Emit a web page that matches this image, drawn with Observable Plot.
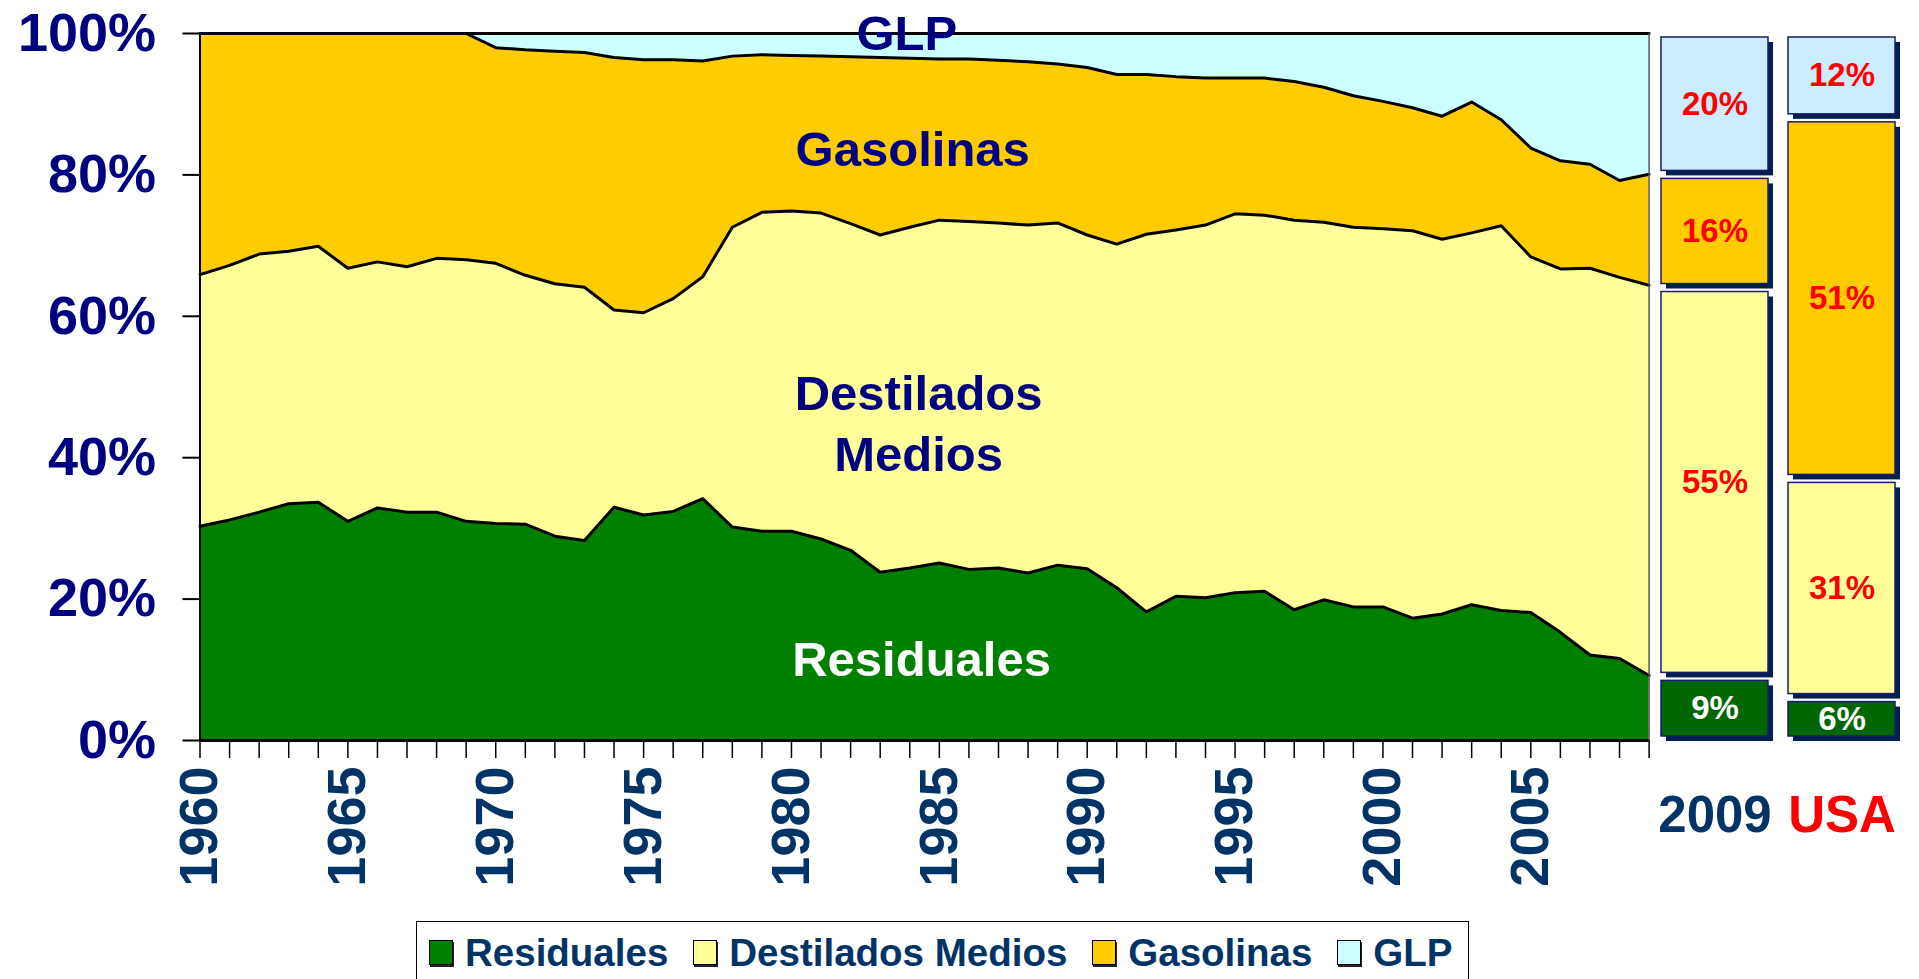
<!DOCTYPE html>
<html><head><meta charset="utf-8">
<script src="https://cdn.jsdelivr.net/npm/d3@7"></script>
<script src="https://cdn.jsdelivr.net/npm/@observablehq/plot@0.6"></script>
<style>
html,body{margin:0;padding:0;overflow:hidden;background:#fff;width:1919px;height:979px;}
#wrap{position:relative;width:1919px;height:979px;font-family:"Liberation Sans",Arial,sans-serif;}
#main{position:absolute;left:0;top:0;}
#side{position:absolute;left:1650px;top:0;}
#legend{position:absolute;left:416px;top:921px;width:1053px;height:80px;border:1.5px solid #000;box-sizing:border-box;
  display:flex;align-items:flex-start;padding:11px 0 0 12px;background:#fff;}
.sw{width:24px;height:25px;border:1.5px solid #000;box-sizing:border-box;margin-top:7px;margin-right:12px;box-shadow:1px 2px 0 #222;flex:none;}
.lt{font:bold 38.5px/40px "Liberation Sans",Arial,sans-serif;color:#003366;margin-right:25px;white-space:nowrap;}
</style>
</head><body>
<div id="wrap">
  <div id="main"></div>
  <div id="side"></div>
  <div id="legend"></div>
</div>
<script>
const cats = ["Residuales", "Destilados Medios", "Gasolinas", "GLP"];
const years = [1960,1961,1962,1963,1964,1965,1966,1967,1968,1969,
               1970,1971,1972,1973,1974,1975,1976,1977,1978,1979,
               1980,1981,1982,1983,1984,1985,1986,1987,1988,1989,
               1990,1991,1992,1993,1994,1995,1996,1997,1998,1999,
               2000,2001,2002,2003,2004,2005,2006,2007,2008,2009];
const residuales = [30.3,31.2,32.3,33.5,33.7,31.0,32.9,32.3,32.3,31.0,
                    30.7,30.6,28.9,28.3,33.0,31.9,32.4,34.2,30.2,29.6,
                    29.6,28.5,26.9,23.8,24.4,25.1,24.2,24.4,23.7,24.8,
                    24.3,21.6,18.2,20.4,20.2,20.9,21.1,18.5,19.9,18.9,
                    18.9,17.3,17.9,19.2,18.4,18.1,15.3,12.1,11.6,9.2];
const destilados = [35.6,36.0,36.5,35.7,36.2,35.8,34.8,34.7,35.9,37.0,
                    36.8,35.2,35.7,35.8,27.9,28.6,30.1,31.4,42.4,45.1,
                    45.3,46.1,46.2,47.7,48.2,48.5,49.2,48.8,49.2,48.4,
                    47.2,48.6,53.4,51.8,52.7,53.6,53.2,55.1,53.4,53.7,
                    53.5,54.8,53.0,52.6,54.4,50.3,51.4,54.7,53.9,55.2];
const gasolinas = [34.1,32.8,31.2,30.8,30.1,33.2,32.3,33.0,31.8,32.0,
                   30.5,31.9,32.9,33.2,35.7,35.8,33.8,30.5,24.2,22.3,
                   22.0,22.2,23.6,25.1,23.9,22.8,23.0,23.0,23.1,22.5,
                   23.7,24.0,22.6,21.7,20.8,19.2,19.4,19.6,19.1,18.6,
                   18.0,17.4,17.4,18.5,15.0,15.4,15.3,14.7,13.7,15.7];
const glp = [0,0,0,0,0,0,0,0,0,0,
             2.0,2.3,2.5,2.7,3.4,3.7,3.7,3.9,3.2,3.0,
             3.1,3.2,3.3,3.4,3.5,3.6,3.6,3.8,4.0,4.3,
             4.8,5.8,5.8,6.1,6.3,6.3,6.3,6.8,7.6,8.8,
             9.6,10.5,11.7,9.7,12.2,16.2,18.0,18.5,20.8,19.9];
const yTicks = [0, 20, 40, 60, 80, 100];
const yearLabels = [1960,1965,1970,1975,1980,1985,1990,1995,2000,2005];

const annotTexts = ["GLP", "Gasolinas", "Destilados", "Medios", "Residuales"];
const annotYears = [1983.9, 1984.1, 1984.3, 1984.3, 1984.4];
const annotValues = [99.9, 83.5, 48.9, 40.4, 11.3];

const boxCols = ["2009", "USA"];
const boxResiduales = [9, 6];
const boxDestilados = [55, 31];
const boxGasolinas = [16, 51];
const boxGLP = [20, 12];

const areaColors = ["#008000", "#FFFF99", "#FFCC00", "#CCFFFF"];
const boxColors = ["#006600", "#FFFF99", "#FFCC00", "#CCECFF"];
const font = '"Liberation Sans", Arial, sans-serif';

const series = [residuales, destilados, gasolinas, glp];
const data = years.flatMap((yr, i) => cats.map((c, k) => ({year: yr, cat: c, value: series[k][i]})));
const annots = annotTexts.map((t, i) => ({text: t, year: annotYears[i], value: annotValues[i]}));
const boxSeries = [boxResiduales, boxDestilados, boxGasolinas, boxGLP];
const boxData = boxCols.flatMap((col, i) => cats.map((c, k) => ({col, cat: c, value: boxSeries[k][i]})));

const main = Plot.plot({
  width: 1660, height: 900,
  marginLeft: 199.5, marginRight: 11.4, marginTop: 33, marginBottom: 160,
  style: {fontFamily: font, background: "transparent", overflow: "visible"},
  x: {domain: [1960, 2009]},
  y: {domain: [0, 100]},
  color: {domain: cats, range: areaColors},
  marks: [
    Plot.areaY(data, Plot.stackY({x: "year", y: "value", z: "cat", fill: "cat", order: cats})),
    Plot.lineY(data, Plot.stackY2({x: "year", y: "value", z: "cat", order: cats, stroke: "black", strokeWidth: 3})),
    Plot.ruleY([100], {stroke: "black", strokeWidth: 2.5}),
    Plot.ruleX([2009], {stroke: "#555", strokeWidth: 1.5}),
    Plot.ruleX([1960], {stroke: "black", strokeWidth: 2}),
    Plot.axisY({ticks: yTicks, tickFormat: d => d + "%", tickSize: 17, tickPadding: 27,
      fontSize: 54, fontWeight: "bold", fill: "#000080", stroke: "black", strokeWidth: 2, label: null}),
    Plot.axisX({ticks: years, tickSize: 18, tickFormat: () => "", stroke: "black", strokeWidth: 1.5, label: null}),
    Plot.axisX({ticks: yearLabels, tickSize: 0, tickPadding: 26, tickRotate: -90, tickFormat: d => String(d),
      fontSize: 54, fontWeight: "bold", fill: "#003366", label: null}),
    Plot.ruleY([0], {stroke: "black", strokeWidth: 3}),
    Plot.text(annots, {filter: d => d.text !== "Residuales", x: "year", y: "value", text: "text",
      fill: "#000080", fontSize: 49, fontWeight: "bold"}),
    Plot.text(annots, {filter: d => d.text === "Residuales", x: "year", y: "value", text: "text",
      fill: "white", fontSize: 49, fontWeight: "bold"})
  ]
});
document.getElementById("main").appendChild(main);

const stackOpts = {x: "col", y: "value", z: "cat", order: cats};
const side = Plot.plot({
  width: 269, height: 900,
  marginLeft: 10, marginRight: 23, marginTop: 33, marginBottom: 160,
  style: {fontFamily: font, background: "transparent", overflow: "visible"},
  x: {type: "band", domain: boxCols, paddingInner: 0.156, paddingOuter: 0, axis: null},
  y: {domain: [0, 100], axis: null},
  color: {domain: cats, range: boxColors},
  marks: [
    Plot.barY(boxData, Plot.stackY({...stackOpts, fill: "#00204F", dx: 5, dy: 5, insetTop: 4, insetBottom: 4})),
    Plot.barY(boxData, Plot.stackY({...stackOpts, fill: "cat", stroke: "#1B1B6B", strokeWidth: 1.5, insetTop: 4, insetBottom: 4})),
    Plot.text(boxData, Plot.stackY({...stackOpts, text: d => d.cat === "Residuales" ? "" : d.value + "%",
      fill: "#FF0000", fontSize: 33, fontWeight: "bold"})),
    Plot.text(boxData, Plot.stackY({...stackOpts, text: d => d.cat === "Residuales" ? d.value + "%" : "",
      fill: "white", fontSize: 33, fontWeight: "bold"})),
    Plot.text(boxCols, {filter: d => d !== "USA", x: d => d, frameAnchor: "bottom", lineAnchor: "middle", dy: 75, text: d => d,
      fill: "#003366", fontSize: 51, fontWeight: "bold"}),
    Plot.text(boxCols, {filter: d => d === "USA", x: d => d, frameAnchor: "bottom", lineAnchor: "middle", dy: 75, text: d => d,
      fill: "#FF0000", fontSize: 51, fontWeight: "bold"})
  ]
});
document.getElementById("side").appendChild(side);

const legend = document.getElementById("legend");
cats.forEach((c, i) => {
  const sw = document.createElement("span");
  sw.className = "sw";
  sw.style.background = areaColors[i];
  const lt = document.createElement("span");
  lt.className = "lt";
  lt.textContent = c;
  legend.appendChild(sw);
  legend.appendChild(lt);
});
</script>
</body></html>
